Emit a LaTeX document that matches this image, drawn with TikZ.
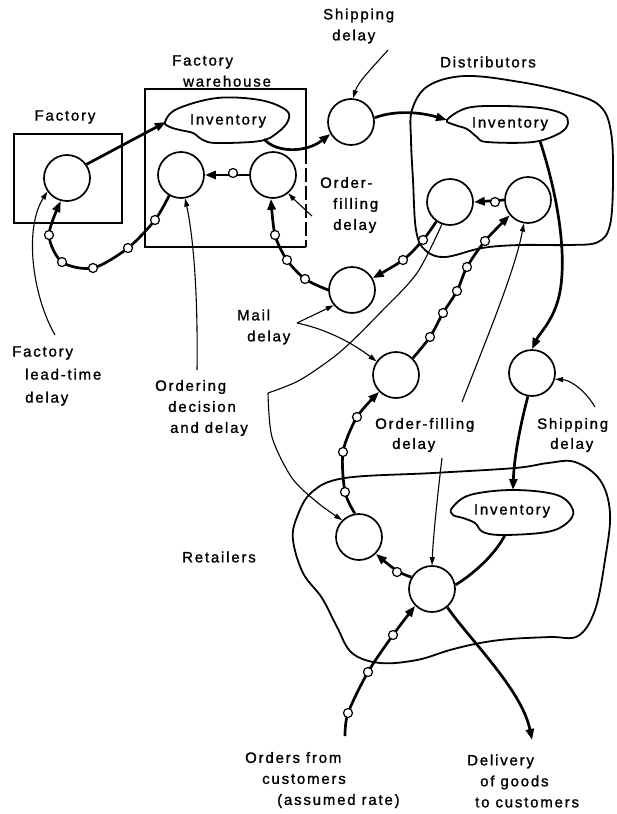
\documentclass[tikz,border=0pt]{standalone}
\usepackage{fontspec}
\setmainfont{Liberation Sans}[LetterSpace=12,FakeBold=1.2]
\usetikzlibrary{arrows.meta}
\begin{document}
\begin{tikzpicture}[x=1pt,y=-1pt,
 circ/.style={circle,draw,line width=1.7pt,minimum size=46pt,inner sep=0pt},
 dot/.style={circle,draw,fill=white,line width=1.2pt,minimum size=9pt,inner sep=0pt},
 flow/.style={line width=2.7pt,-{Triangle[length=11pt,width=8pt]}},
 flowplain/.style={line width=2.7pt},
 ptr/.style={line width=1.1pt,-{Triangle[length=8pt,width=5pt]}},
 thinline/.style={line width=1.1pt},
 bound/.style={line width=1.8pt},
 lbl/.style={font=\fontsize{15}{21}\selectfont,inner sep=0pt},
 lbll/.style={lbl,align=left,anchor=west},
]
\useasboundingbox (0,0) rectangle (616,814);

% ---------- boxes and boundaries ----------
\draw[bound] (14,134) rectangle (122,223);
\draw[bound] (306,150) -- (306,89) -- (145,89) -- (145,247) -- (306,247);
\draw[bound,dash pattern=on 14pt off 4pt] (306,150) -- (306,247);

\draw[bound] plot[smooth cycle,tension=0.6] coordinates {(412,110) (428,86) (465,76) (520,82) (570,93) (600,106) (611,132) (613,180) (610,225) (598,242) (570,245) (520,245) (482,248) (445,257) (425,250) (416,230) (413,180) (411,140)};

\draw[bound] plot[smooth cycle,tension=0.6] coordinates {(345,478) (433,473) (515,468) (548,463) (575,462) (600,480) (610,513) (605,560) (595,610) (578,636) (550,637) (510,639) (480,643) (450,650) (417,660) (380,663) (352,653) (337,627) (322,598) (303,573) (293,540) (297,517) (312,492)};

% ---------- inventories ----------
\draw[line width=1.8pt] plot[smooth cycle,tension=0.6] coordinates {(165,122) (177,109) (217,98) (260,100) (286,110) (288,121) (277,133) (260,141) (217,143) (203,140) (193,133) (180,130) (170,127)};
\draw[line width=1.8pt] plot[smooth cycle,tension=0.6] coordinates {(447,120) (467,108) (500,106) (540,108) (563,114) (568,123) (560,133) (533,142) (487,142) (477,137) (467,129) (455,125)};
\draw[line width=1.8pt] plot[smooth cycle,tension=0.6] coordinates {(452,508) (470,495) (513,490) (557,495) (573,510) (567,523) (547,532) (503,535) (483,532) (475,523) (463,518) (453,515)};
\node[lbl] (winv) at (228,121) {Inventory};
\node[lbl] (dinv) at (510,124) {Inventory};
\node[lbl] (rinv) at (512,511) {Inventory};
\coordinate (winvL) at (166,122);
\coordinate (winvBR) at (264,139);
\coordinate (dinvL) at (447,120);
\coordinate (dinvB) at (540,141);
\coordinate (rinvT) at (513,490);
\coordinate (rinvB) at (505,535);

% ---------- circles ----------
\node[circ] (F) at (67,178) {};
\node[circ] (WL) at (181,175) {};
\node[circ] (WR) at (273,175) {};
\node[circ] (SH) at (351,122) {};
\node[circ] (ML) at (352,290) {};
\node[circ] (DL) at (450,202) {};
\node[circ] (DR) at (528,200) {};
\node[circ] (DO) at (396,375) {};
\node[circ] (SR) at (532,373) {};
\node[circ] (RL) at (359,537) {};
\node[circ] (RR) at (432,589) {};

% ---------- goods flow ----------
\draw[flow] (F.35) -- (winvL);
\draw[flow] (winvBR) .. controls (276,153) and (306,153) .. (SH.210);
\draw[flow] (SH.10) .. controls (395,110) and (420,112) .. (dinvL);
\draw[flow] (dinvB) .. controls (556,190) and (566,245) .. (561,285) .. controls (557,318) and (540,332) .. (SR.north);
\draw[flow] (SR.260) .. controls (519,430) and (514,460) .. (rinvT);
\draw[flowplain] (rinvB) .. controls (495,555) and (472,575) .. (RR.10);
\coordinate (deliv) at (532,740);
\draw[flow] (RR.-50) .. controls (470,640) and (522,690) .. (deliv);

% ---------- order flow ----------
\coordinate (ordstart) at (345,736);
\draw[flow] plot[smooth] coordinates {(ordstart) (348,713) (368,672) (393,635) (RR.225)};
\draw[flow] (RR.150) .. controls (400,574) and (390,566) .. (RL.-45);
\draw[flow] plot[smooth] coordinates {(RL.100) (345,492) (343,452) (357,417) (DO.225)};
\draw[flow] plot[smooth] coordinates {(DO.45) (430,337) (443,313) (457,291) (467,267) (485,241) (DR.220)};
\draw[flow] (DR.west) -- (DL.east);
\draw[flow] plot[smooth] coordinates {(DL.235) (423,240) (403,260) (ML.30)};
\draw[flow] plot[smooth] coordinates {(ML.west) (305,279) (287,260) (275,235) (WR.265)};
\draw[flow] (WR.west) -- (WL.east);
\draw[flow] plot[smooth] coordinates {(WL.240) (155,220) (128,248) (93,268) (62,262) (49,235) (F.255)};

% ---------- delay markers ----------
\foreach \p [count=\i] in {(155,220),(128,248),(93,268),(62,262),(49,235),(233,173),(305,279),(287,260),(275,235),(423,240),(403,260),(495,202),(430,337),(443,313),(457,291),(467,267),(485,241),(345,492),(343,452),(357,417),(397,572),(348,713),(368,672),(393,635)}
  \node[dot] (m\i) at \p {};

% ---------- pointers ----------
\draw[ptr] (55,335) .. controls (32,295) and (24,228) .. (F.215);
\draw[ptr] (197,370) .. controls (198,300) and (194,240) .. (WL.-80);
\draw[ptr] (312,216) .. controls (302,208) .. (WR.-50);
\draw[ptr] (388,50) .. controls (372,68) and (358,82) .. (SH.85);
\coordinate (mailpt) at (297,323);
\draw[ptr] (mailpt) -- (ML.220);
\draw[ptr] (mailpt) .. controls (330,330) and (355,345) .. (DO.145);
\draw[thinline] plot[smooth] coordinates {(DL.250) (417,273) (380,313) (340,352) (300,380) (268,393)};
\draw[ptr] plot[smooth] coordinates {(268,393) (272,437) (292,478) (318,503) (RL.135)};
\draw[ptr] (462,402) .. controls (490,330) and (515,270) .. (DR.-100);
\draw[ptr] (442,458) .. controls (437,500) and (433,540) .. (RR.north);
\draw[ptr] (595,407) .. controls (585,390) and (570,380) .. (SR.-15);

% ---------- labels ----------
\node[lbl] (tF) at (65,117) {Factory};
\node[lbll] (tW) at (172,71) {Factory\\\hspace*{11pt}warehouse};
\node[lbll] (tS1) at (323,26) {Shipping\\\hspace*{9pt}delay};
\node[lbl] (tD) at (488,62) {Distributors};
\node[lbll] (tOF1) at (320,205) {Order-\\\hspace*{13pt}filling\\\hspace*{13pt}delay};
\node[lbll] (tM) at (237,327) {Mail\\\hspace*{10pt}delay};
\node[lbll,font=\fontsize{15}{23}\selectfont] (tFL) at (12,376) {Factory\\\hspace*{13pt}lead-time\\\hspace*{13pt}delay};
\node[lbll] (tO) at (155,408) {Ordering\\\hspace*{13pt}decision\\\hspace*{15pt}and delay};
\node[lbll,font=\fontsize{15}{20}\selectfont] (tOF2) at (375,435) {Order-filling\\\hspace*{17pt}delay};
\node[lbll,font=\fontsize{15}{20}\selectfont] (tS2) at (537,435) {Shipping\\\hspace*{13pt}delay};
\node[lbl] (tR) at (219,557) {Retailers};
\node[lbll] (tOr) at (245,780) {Orders from\\\hspace*{17pt}customers\\\hspace*{32pt}(assumed rate)};
\node[lbll] (tDe) at (467,781) {Delivery\\\hspace*{13pt}of goods\\\hspace*{8pt}to customers};
\end{tikzpicture}
\end{document}
